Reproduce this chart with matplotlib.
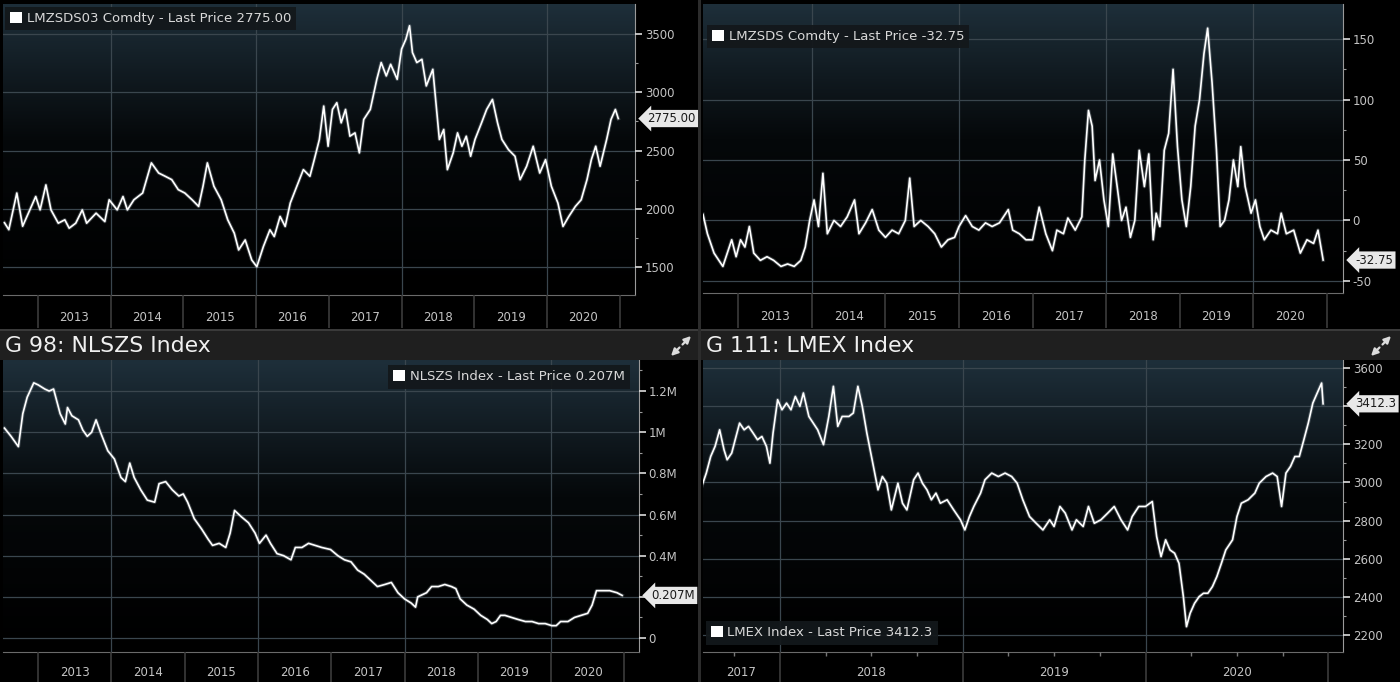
import numpy as np
import matplotlib
matplotlib.use("Agg")
import matplotlib.pyplot as plt
from matplotlib.colors import LinearSegmentedColormap
from matplotlib.patches import Patch, Rectangle, FancyArrowPatch
from matplotlib.ticker import FixedLocator, FuncFormatter

# ---------------- data (decimal years, values) ----------------
zinc_years = [2012.54, 2012.60, 2012.71, 2012.79, 2012.85, 2012.97, 2013.03, 2013.11, 2013.18, 2013.28,
              2013.37, 2013.43, 2013.52, 2013.61, 2013.67, 2013.80, 2013.92, 2013.98, 2014.09, 2014.17,
              2014.23, 2014.32, 2014.44, 2014.56, 2014.66, 2014.75, 2014.84, 2014.93, 2015.02, 2015.12,
              2015.21, 2015.27, 2015.33, 2015.42, 2015.52, 2015.61, 2015.70, 2015.76, 2015.85, 2015.94,
              2016.01, 2016.10, 2016.19, 2016.25, 2016.33, 2016.40, 2016.47, 2016.56, 2016.65, 2016.74,
              2016.80, 2016.87, 2016.93, 2016.99, 2017.05, 2017.11, 2017.17, 2017.23, 2017.29, 2017.36,
              2017.42, 2017.48, 2017.57, 2017.66, 2017.72, 2017.79, 2017.85, 2017.94, 2018.00, 2018.06,
              2018.11, 2018.15, 2018.21, 2018.28, 2018.34, 2018.43, 2018.52, 2018.58, 2018.63, 2018.71,
              2018.77, 2018.83, 2018.89, 2018.95, 2019.01, 2019.10, 2019.17, 2019.25, 2019.32, 2019.38,
              2019.47, 2019.56, 2019.63, 2019.72, 2019.81, 2019.90, 2019.98, 2020.06, 2020.15, 2020.22,
              2020.30, 2020.39, 2020.47, 2020.55, 2020.61, 2020.67, 2020.73, 2020.82, 2020.88, 2020.94,
              2020.98]
zinc_price = [1880, 1820, 2135, 1850, 1935, 2105, 1990, 2205, 1990, 1876,
              1905, 1833, 1876, 1990, 1876, 1962, 1890, 2077, 1990, 2105,
              1990, 2077, 2135, 2394, 2307, 2279, 2250, 2164, 2135, 2077,
              2020, 2193, 2394, 2193, 2077, 1905, 1790, 1646, 1732, 1560,
              1502, 1675, 1819, 1761, 1934, 1848, 2049, 2193, 2336, 2279,
              2422, 2595, 2882, 2537, 2853, 2911, 2738, 2853, 2623, 2652,
              2480, 2767, 2853, 3112, 3256, 3141, 3241, 3112, 3371, 3457,
              3572, 3342, 3256, 3284, 3055, 3198, 2595, 2681, 2336, 2480,
              2652, 2537, 2623, 2451, 2595, 2738, 2853, 2939, 2738, 2595,
              2508, 2451, 2250, 2365, 2537, 2307, 2422, 2193, 2049, 1848,
              1934, 2020, 2077, 2250, 2422, 2537, 2365, 2595, 2767, 2853,
              2775]
zinc_last = "2775.00"

spread_years = [2012.52, 2012.58, 2012.67, 2012.79, 2012.85, 2012.91, 2012.97, 2013.03, 2013.09, 2013.15,
                2013.21, 2013.30, 2013.39, 2013.48, 2013.58, 2013.67, 2013.76, 2013.85, 2013.91, 2013.97,
                2014.03, 2014.09, 2014.15, 2014.21, 2014.30, 2014.39, 2014.48, 2014.58, 2014.64, 2014.73,
                2014.82, 2014.91, 2015.00, 2015.09, 2015.18, 2015.27, 2015.33, 2015.39, 2015.48, 2015.58,
                2015.67, 2015.76, 2015.85, 2015.94, 2016.00, 2016.09, 2016.18, 2016.27, 2016.36, 2016.45,
                2016.55, 2016.67, 2016.73, 2016.82, 2016.91, 2017.00, 2017.09, 2017.18, 2017.27, 2017.33,
                2017.42, 2017.48, 2017.58, 2017.67, 2017.71, 2017.76, 2017.81, 2017.85, 2017.91, 2017.97,
                2018.03, 2018.09, 2018.15, 2018.21, 2018.27, 2018.33, 2018.39, 2018.45, 2018.52, 2018.58,
                2018.64, 2018.68, 2018.73, 2018.79, 2018.85, 2018.91, 2018.97, 2019.03, 2019.09, 2019.15,
                2019.21, 2019.27, 2019.33, 2019.38, 2019.44, 2019.50, 2019.55, 2019.61, 2019.67, 2019.73,
                2019.79, 2019.83, 2019.89, 2019.97, 2020.03, 2020.09, 2020.15, 2020.24, 2020.33, 2020.38,
                2020.45, 2020.55, 2020.64, 2020.73, 2020.82, 2020.88, 2020.95]
spread_value = [5, -11, -27, -38, -27, -16, -30, -16, -22, -5,
                -27, -33, -30, -33, -38, -36, -38, -33, -22, 0,
                17, -5, 39, -11, 0, -5, 3, 17, -11, -2,
                9, -8, -14, -8, -11, 0, 35, -5, 0, -5,
                -11, -22, -16, -14, -5, 4, -5, -8, -2, -5,
                -2, 9, -8, -11, -16, -16, 11, -11, -25, -8,
                -11, 2, -8, 3, 50, 91, 78, 33, 50, 17,
                -5, 55, 28, 0, 11, -14, 0, 58, 28, 55,
                -16, 6, -5, 58, 72, 125, 61, 17, -5, 28,
                78, 100, 138, 159, 114, 58, -5, 0, 17, 50,
                28, 61, 28, 6, 17, -5, -16, -8, -11, 6,
                -11, -8, -27, -16, -19, -8, -32.75]
spread_last = "-32.75"

stocks_years = [2012.54, 2012.63, 2012.73, 2012.79, 2012.85, 2012.94, 2013.00, 2013.09, 2013.15, 2013.21,
                2013.30, 2013.37, 2013.40, 2013.46, 2013.55, 2013.61, 2013.67, 2013.73, 2013.79, 2013.85,
                2013.95, 2014.04, 2014.13, 2014.19, 2014.25, 2014.31, 2014.40, 2014.49, 2014.59, 2014.65,
                2014.74, 2014.83, 2014.92, 2014.98, 2015.04, 2015.13, 2015.23, 2015.32, 2015.38, 2015.47,
                2015.56, 2015.62, 2015.68, 2015.77, 2015.87, 2015.96, 2016.02, 2016.11, 2016.17, 2016.26,
                2016.35, 2016.45, 2016.51, 2016.60, 2016.69, 2016.78, 2016.87, 2016.99, 2017.09, 2017.18,
                2017.27, 2017.36, 2017.45, 2017.54, 2017.63, 2017.73, 2017.82, 2017.91, 2018.00, 2018.09,
                2018.15, 2018.18, 2018.24, 2018.30, 2018.37, 2018.46, 2018.55, 2018.64, 2018.70, 2018.76,
                2018.85, 2018.95, 2019.04, 2019.13, 2019.19, 2019.25, 2019.31, 2019.37, 2019.46, 2019.55,
                2019.65, 2019.74, 2019.83, 2019.92, 2020.01, 2020.07, 2020.13, 2020.23, 2020.32, 2020.41,
                2020.50, 2020.56, 2020.62, 2020.71, 2020.80, 2020.90, 2020.97]
stocks_mt = [1.02, 0.98, 0.93, 1.09, 1.17, 1.24, 1.23, 1.21, 1.20, 1.21,
             1.09, 1.04, 1.12, 1.08, 1.06, 1.01, 0.98, 1.00, 1.06, 1.00,
             0.91, 0.87, 0.78, 0.76, 0.85, 0.78, 0.72, 0.67, 0.66, 0.75,
             0.76, 0.72, 0.69, 0.70, 0.66, 0.58, 0.53, 0.48, 0.45, 0.46,
             0.44, 0.51, 0.62, 0.59, 0.56, 0.51, 0.46, 0.50, 0.46, 0.41,
             0.40, 0.38, 0.44, 0.44, 0.46, 0.45, 0.44, 0.43, 0.40, 0.38,
             0.37, 0.33, 0.31, 0.28, 0.25, 0.26, 0.27, 0.22, 0.19, 0.17,
             0.15, 0.20, 0.21, 0.22, 0.25, 0.25, 0.26, 0.25, 0.24, 0.19,
             0.16, 0.14, 0.11, 0.09, 0.07, 0.08, 0.11, 0.11, 0.10, 0.09,
             0.08, 0.08, 0.07, 0.07, 0.06, 0.06, 0.08, 0.08, 0.10, 0.11,
             0.12, 0.16, 0.23, 0.23, 0.23, 0.22, 0.207]
stocks_last = "0.207M"

lmex_years = [2017.573, 2017.598, 2017.622, 2017.646, 2017.671, 2017.695, 2017.712, 2017.737, 2017.756, 2017.780,
              2017.805, 2017.829, 2017.854, 2017.878, 2017.902, 2017.927, 2017.946, 2017.963, 2017.988, 2018.012,
              2018.037, 2018.061, 2018.085, 2018.110, 2018.129, 2018.159, 2018.183, 2018.207, 2018.239, 2018.268,
              2018.293, 2018.317, 2018.341, 2018.378, 2018.402, 2018.427, 2018.451, 2018.476, 2018.512, 2018.537,
              2018.561, 2018.585, 2018.610, 2018.646, 2018.671, 2018.695, 2018.732, 2018.756, 2018.780, 2018.805,
              2018.829, 2018.854, 2018.878, 2018.915, 2018.951, 2018.988, 2019.012, 2019.037, 2019.061, 2019.098,
              2019.122, 2019.159, 2019.195, 2019.232, 2019.268, 2019.298, 2019.329, 2019.366, 2019.402, 2019.439,
              2019.476, 2019.500, 2019.532, 2019.561, 2019.598, 2019.622, 2019.659, 2019.688, 2019.720, 2019.756,
              2019.793, 2019.829, 2019.866, 2019.902, 2019.927, 2019.963, 2020.000, 2020.037, 2020.061, 2020.085,
              2020.110, 2020.134, 2020.159, 2020.183, 2020.207, 2020.224, 2020.244, 2020.268, 2020.293, 2020.317,
              2020.341, 2020.366, 2020.390, 2020.415, 2020.439, 2020.476, 2020.500, 2020.524, 2020.561, 2020.598,
              2020.622, 2020.659, 2020.695, 2020.720, 2020.744, 2020.768, 2020.793, 2020.817, 2020.841, 2020.866,
              2020.890, 2020.915, 2020.939, 2020.963, 2020.971]
lmex_index = [2979, 3049, 3136, 3189, 3276, 3171, 3119, 3154, 3224, 3311,
              3276, 3294, 3259, 3224, 3241, 3189, 3101, 3259, 3434, 3381,
              3416, 3381, 3451, 3399, 3469, 3346, 3311, 3276, 3198, 3346,
              3504, 3294, 3346, 3346, 3364, 3504, 3399, 3259, 3084, 2961,
              3031, 2996, 2856, 2996, 2891, 2856, 3014, 3049, 2996, 2961,
              2909, 2944, 2891, 2909, 2856, 2804, 2751, 2821, 2874, 2944,
              3014, 3049, 3031, 3049, 3031, 2996, 2909, 2821, 2786, 2751,
              2804, 2769, 2874, 2839, 2751, 2804, 2769, 2874, 2786, 2804,
              2839, 2874, 2804, 2751, 2821, 2874, 2874, 2900, 2716, 2611,
              2699, 2646, 2629, 2576, 2401, 2244, 2314, 2366, 2401, 2419,
              2419, 2454, 2506, 2576, 2646, 2699, 2821, 2891, 2909, 2944,
              2996, 3031, 3049, 3031, 2874, 3049, 3084, 3136, 3136, 3224,
              3311, 3416, 3469, 3521, 3412.3]
lmex_last = "3412.3"

year_ticks_long = [2013, 2014, 2015, 2016, 2017, 2018, 2019, 2020, 2021]
year_ticks_short = [2017, 2018, 2019, 2020, 2021]

# ---------------- figure ----------------
W, H = 1400, 682
fig = plt.figure(figsize=(W / 100, H / 100), dpi=100, facecolor="black")
plt.rcParams["font.family"] = ["DejaVu Sans"]

TXT = "#c4c4c4"
GRID = "#3a464e"
cmap = LinearSegmentedColormap.from_list("bb", ["#000000", "#05080a", "#1e2f3a"])
grad = np.linspace(0, 1, 256).reshape(-1, 1) ** 1.1


def px_axes(l, t, r, b):
    return fig.add_axes([l / W, 1 - b / H, (r - l) / W, (b - t) / H])


def style_axes(ax, xlim, ylim, yticks, yminor, fmt, grid_years, band_px, tick_years, minor_x=None):
    ax.set_facecolor("black")
    ax.imshow(grad, extent=[0, 1, 0, 1], transform=ax.transAxes, aspect="auto",
              cmap=cmap, origin="lower", zorder=0, interpolation="bicubic")
    ax.set_xlim(*xlim)
    ax.set_ylim(*ylim)
    for s in ["top", "left"]:
        ax.spines[s].set_visible(False)
    ax.spines["right"].set_color("#9a9a9a")
    ax.spines["bottom"].set_color("#6a6a6a")
    ax.yaxis.tick_right()
    ax.yaxis.set_major_locator(FixedLocator(yticks))
    ax.yaxis.set_minor_locator(FixedLocator(yminor))
    ax.yaxis.set_major_formatter(FuncFormatter(fmt))
    ax.tick_params(axis="y", which="major", colors="#dddddd", labelcolor=TXT,
                   labelsize=8.5, length=5, width=1.2, pad=2)
    ax.tick_params(axis="y", which="minor", colors="#999999", length=2.5, width=0.8)
    ax.grid(axis="y", which="major", color=GRID, lw=0.9, zorder=1)
    for gy in grid_years:
        ax.axvline(gy, color=GRID, lw=0.9, zorder=1)
    ax.xaxis.set_major_locator(FixedLocator(tick_years))
    ax.xaxis.set_major_formatter(FuncFormatter(lambda v, p: ""))
    ax.tick_params(axis="x", which="major", direction="out", length=band_px * 0.72,
                   color="#3c3c3c", width=1.2)
    if minor_x is not None:
        ax.xaxis.set_minor_locator(FixedLocator(minor_x))
        ax.tick_params(axis="x", which="minor", direction="out", length=3, color="#777777", width=1)
    else:
        ax.xaxis.set_minor_locator(FixedLocator([]))
    ax.set_axisbelow(False)


def year_labels(ax, xlim, years, band_px):
    for y in years:
        lo = max(y, xlim[0])
        hi = y + 1
        ax.annotate(str(y), xy=((lo + hi) / 2, 0), xycoords=("data", "axes fraction"),
                    xytext=(0, -band_px * 0.72 * 0.68), textcoords="offset points",
                    ha="center", va="center", color=TXT, fontsize=8.5, annotation_clip=False)


def last_box(ax, val, text):
    ax.annotate(text, xy=(1, val), xycoords=("axes fraction", "data"),
                xytext=(9, 0), textcoords="offset points", ha="left", va="center",
                fontsize=8.5, color="#1a1a1a", zorder=10, annotation_clip=False,
                bbox=dict(boxstyle="larrow,pad=0.18", fc="#e8e8e8", ec="none"))


def legend(ax, label, loc, anchor):
    h = Patch(facecolor="white", edgecolor="none", label=label)
    lg = ax.legend(handles=[h], loc=loc, bbox_to_anchor=anchor, frameon=True, fancybox=False,
                   fontsize=9.5, handlelength=0.9, handleheight=0.9, handletextpad=0.35,
                   borderpad=0.4, labelcolor="#d8d8d8", borderaxespad=0)
    fr = lg.get_frame()
    fr.set_facecolor("#13181b")
    fr.set_edgecolor("none")
    fr.set_alpha(0.95)
    lg.set_zorder(8)


def line(ax, x, y):
    ax.plot(x, y, color="#8f9aa0", lw=2.6, alpha=0.35, zorder=4, solid_joinstyle="round")
    ax.plot(x, y, color="white", lw=1.2, zorder=5, solid_joinstyle="round")


# ---- title bars & separators
for (l, r) in [(0, 698), (701, 1400)]:
    fig.patches.append(Rectangle((l / W, 1 - 360 / H), (r - l) / W, 30 / H,
                                 transform=fig.transFigure, fc="#1f1f1f", ec="none", zorder=0))
fig.patches.append(Rectangle((0, 1 - 331 / H), 1, 2 / H, transform=fig.transFigure,
                             fc="#3a3a3a", ec="none", zorder=0))
fig.patches.append(Rectangle((698 / W, 0), 3 / W, 1, transform=fig.transFigure,
                             fc="#2c2c2c", ec="none", zorder=0))
fig.text(5 / W, 1 - 346 / H, "G 98: NLSZS Index", color="#f0f0f0", fontsize=15.8, va="center", ha="left")
fig.text(706 / W, 1 - 346 / H, "G 111: LMEX Index", color="#f0f0f0", fontsize=15.8, va="center", ha="left")
for cx in [681, 1381]:
    cy = H - 346
    for dx in [1, -1]:
        fig.add_artist(FancyArrowPatch(
            (cx + 1.5 * dx, cy + 1.5 * dx), (cx + 10 * dx, cy + 10 * dx),
            transform=None, arrowstyle="-|>", mutation_scale=10, color="#dcdcdc", lw=1.6,
            shrinkA=0, shrinkB=0))

# ---- top-left: LMZSDS03
ax1 = px_axes(3, 4, 635, 295)
xl1 = (2012.52, 2021.21)
style_axes(ax1, xl1, (1259, 3759), [1500, 2000, 2500, 3000, 3500],
           [1750, 2250, 2750, 3250], lambda v, p: f"{v:.0f}", [2014, 2016, 2018, 2020], 33, year_ticks_long)
line(ax1, zinc_years, zinc_price)
year_labels(ax1, xl1, list(range(2013, 2021)), 33)
last_box(ax1, zinc_price[-1], zinc_last)
legend(ax1, f"LMZSDS03 Comdty - Last Price {zinc_last}", "upper left", (0.003, 0.99))

# ---- top-right: LMZSDS
ax2 = px_axes(703, 4, 1343, 293)
xl2 = (2012.52, 2021.22)
style_axes(ax2, xl2, (-60, 179), [-50, 0, 50, 100, 150], [-25, 25, 75, 125],
           lambda v, p: f"{v:.0f}", [2014, 2016, 2018, 2020], 35, year_ticks_long)
line(ax2, spread_years, spread_value)
year_labels(ax2, xl2, list(range(2013, 2021)), 35)
last_box(ax2, spread_value[-1], spread_last)
legend(ax2, f"LMZSDS Comdty - Last Price {spread_last}", "upper left", (0.006, 0.928))

# ---- bottom-left: NLSZS  (0.2M label sits under the last-price box, hidden as in the original)
ax3 = px_axes(3, 360, 639, 652)
xl3 = (2012.52, 2021.2)
style_axes(ax3, xl3, (-0.068, 1.351), [0, 0.2, 0.4, 0.6, 0.8, 1.0, 1.2],
           [0.1, 0.3, 0.5, 0.7, 0.9, 1.1, 1.3],
           lambda v, p: "0" if abs(v) < 1e-9 else ("" if abs(v - 0.2) < 1e-9 else f"{v:g}M"),
           [2014, 2016, 2018, 2020], 30, year_ticks_long)
line(ax3, stocks_years, stocks_mt)
year_labels(ax3, xl3, list(range(2013, 2021)), 30)
last_box(ax3, stocks_mt[-1], stocks_last)
legend(ax3, f"NLSZS Index - Last Price {stocks_last}", "upper right", (0.986, 0.983))

# ---- bottom-right: LMEX (3400 label hidden under the last-price box)
ax4 = px_axes(703, 360, 1343, 652)
xl4 = (2017.58, 2021.08)
quarters = [y + q for y in range(2017, 2021) for q in (0.25, 0.5, 0.75)]
style_axes(ax4, xl4, (2111, 3642), [2200, 2400, 2600, 2800, 3000, 3200, 3400, 3600],
           [2300, 2500, 2700, 2900, 3100, 3300, 3500],
           lambda v, p: "" if abs(v - 3400) < 1e-6 else f"{v:.0f}",
           [2018, 2019, 2020], 30, year_ticks_short, minor_x=quarters)
line(ax4, lmex_years, lmex_index)
year_labels(ax4, xl4, [2017, 2018, 2019, 2020], 30)
last_box(ax4, lmex_index[-1], lmex_last)
legend(ax4, f"LMEX Index - Last Price {lmex_last}", "lower left", (0.004, 0.025))

fig.savefig("out.png", dpi=100, facecolor="black")
